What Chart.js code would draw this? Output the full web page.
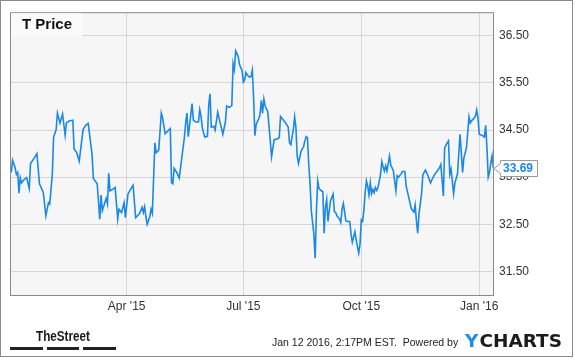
<!DOCTYPE html>
<html><head><meta charset="utf-8">
<script src="https://cdn.jsdelivr.net/npm/chart.js@4/dist/chart.umd.min.js"></script>
<style>html,body{margin:0;padding:0;background:#fff;overflow:hidden}#wrap{width:575px;height:358px;position:relative}canvas{display:block}</style>
</head><body><div id="wrap"><canvas id="c" width="575" height="358"></canvas></div>
<script>
// ---- data (days since 2015-01-01, closing price of T) ----
const seriesName = 'T Price';
const days = [0,1,3,4,5,6,7,8,10,12,14,15,18,20,22,25,27,29,30,32,33,35,36,38,40,42,43,45,48,49,51,53,56,58,60,63,64,67,69,70,71,73,74,75,76,77,79,81,83,84,86,88,89,91,93,95,97,100,102,103,104,105,106,108,109,110,112,113,115,117,118,120,122,124,125,126,127,129,131,133,135,136,137,138,139,141,142,144,146,147,148,149,150,151,153,154,155,156,157,158,159,161,163,164,165,167,168,170,172,173,174,175,177,178,180,181,182,183,184,186,187,188,189,190,191,193,194,195,196,197,198,199,200,202,203,205,208,209,210,212,214,216,217,218,220,221,222,223,224,226,228,229,230,231,232,233,234,236,237,238,239,240,241,243,244,245,246,247,248,249,251,252,253,254,256,257,258,259,260,261,262,264,265,266,268,269,271,272,273,274,275,276,277,278,279,280,281,282,283,284,285,286,288,289,290,291,292,293,295,296,297,298,300,301,302,304,305,307,308,310,312,314,315,316,317,318,320,321,323,325,327,328,330,332,334,335,336,337,338,339,341,342,343,345,346,348,349,350,351,352,353,355,357,358,359,360,362,363,364,365,367,368,369,370,371,372,373,374,375,376];
const prices = [33.60,33.86,33.70,33.56,33.60,33.16,33.49,33.38,33.45,33.49,33.26,33.79,33.91,34.00,33.36,33.17,32.68,32.96,32.93,33.56,34.35,34.51,34.86,34.65,34.84,34.39,34.65,34.69,34.71,34.10,34.02,33.84,34.51,34.60,34.64,33.98,33.47,33.36,32.61,33.12,32.79,32.96,33.05,32.93,33.58,33.21,33.24,33.28,32.61,32.82,32.75,32.96,32.64,33.14,33.24,33.33,32.64,32.73,32.86,32.75,32.87,32.66,32.50,32.66,32.82,32.73,34.23,34.02,34.07,34.86,34.76,34.42,34.48,34.53,33.38,33.36,33.69,33.60,33.48,33.91,34.34,34.65,34.86,34.36,34.58,35.06,34.71,34.67,34.67,34.93,34.79,34.55,34.44,34.35,34.37,35.03,35.27,34.56,34.57,34.58,34.50,34.88,34.64,34.53,34.41,34.67,35.01,34.98,35.02,35.91,35.78,36.18,36.06,35.89,35.76,35.52,35.56,35.72,35.67,35.62,35.64,35.77,35.18,34.38,34.62,34.74,34.83,35.13,34.86,35.16,35.01,34.95,34.90,34.27,33.93,34.29,34.32,34.34,34.79,34.72,34.65,34.56,34.23,34.19,34.51,34.78,34.55,33.95,33.79,34.05,34.15,34.27,34.36,34.34,33.77,33.38,32.79,32.29,31.78,32.79,33.42,33.26,33.23,33.19,32.31,32.86,33.03,32.56,32.79,33.00,33.14,32.77,32.75,32.68,32.61,32.54,32.82,32.94,32.76,32.57,32.56,32.56,32.29,32.12,32.34,32.17,31.89,32.08,32.59,32.56,32.79,33.17,33.42,33.31,33.12,33.38,33.15,33.24,33.17,33.28,33.22,33.28,33.56,33.83,33.72,33.63,33.74,33.63,33.95,33.75,33.70,33.63,33.21,33.53,33.50,33.57,33.62,33.62,33.31,33.07,32.83,32.76,32.91,32.57,32.31,32.72,33.15,33.55,33.65,33.53,33.38,33.44,33.55,33.62,33.70,33.77,33.45,33.10,34.12,34.18,34.27,33.56,33.67,33.15,33.38,33.56,33.98,34.41,34.02,33.60,33.91,34.12,34.78,34.65,34.70,34.72,34.79,34.93,34.76,34.41,34.39,34.37,34.35,34.60,34.12,33.50,33.60,33.79,33.95,33.69];
const xTickDays = [90, 181, 273, 365];
const xTickLabels = ["Apr '15", "Jul '15", "Oct '15", "Jan '16"];
const yTickValues = [31.5, 32.5, 33.5, 34.5, 35.5, 36.5];
const footerText = 'Jan 12 2016, 2:17PM EST.  Powered by';
const brandLeft = 'TheStreet';
const brandRight = ['Y', 'CHARTS'];

const LINE = '#1a88e8';
Chart.defaults.font.family = '"Liberation Sans", Arial, sans-serif';

const points = days.map((d, i) => ({x: d, y: prices[i]}));

const decor = {
  id: 'decor',
  beforeDraw(chart) {
    const ctx = chart.ctx, ca = chart.chartArea;
    ctx.save();
    ctx.fillStyle = '#fff';
    ctx.fillRect(0, 0, chart.width, chart.height);
    ctx.fillStyle = '#f6f6f6';
    ctx.fillRect(ca.left, ca.top, ca.right - ca.left, ca.bottom - ca.top);
    ctx.restore();
  },
  afterDraw(chart) {
    const ctx = chart.ctx, ca = chart.chartArea;
    const ys = chart.scales.y;
    ctx.save();
    // plot frame
    ctx.strokeStyle = '#8a8a8a';
    ctx.lineWidth = 1;
    ctx.strokeRect(ca.left + 0.5, ca.top + 0.5, ca.right - ca.left - 1, ca.bottom - ca.top);
    // legend box
    ctx.fillStyle = '#fafafa';
    ctx.fillRect(ca.left + 1, ca.top + 1, 71, 23);
    ctx.fillStyle = '#111';
    ctx.font = 'bold 15px "Liberation Sans", Arial, sans-serif';
    ctx.textBaseline = 'alphabetic';
    ctx.textAlign = 'left';
    ctx.fillText(seriesName, 22, 29);
    // last value tag
    const last = prices[prices.length - 1];
    const py = Math.round(ys.getPixelForValue(last)) + 0.5;
    const tx = ca.right, bx = tx + 6.5, bw = 37, bh = 16;
    ctx.beginPath();
    ctx.moveTo(tx, py);
    ctx.lineTo(bx, py - 5);
    ctx.lineTo(bx, py - bh / 2);
    ctx.lineTo(bx + bw, py - bh / 2);
    ctx.lineTo(bx + bw, py + bh / 2);
    ctx.lineTo(bx, py + bh / 2);
    ctx.lineTo(bx, py + 5);
    ctx.closePath();
    ctx.fillStyle = '#fff';
    ctx.fill();
    ctx.strokeStyle = '#999';
    ctx.stroke();
    ctx.fillStyle = LINE;
    ctx.font = 'bold 12px "Liberation Sans", Arial, sans-serif';
    ctx.textBaseline = 'middle';
    ctx.fillText(last.toFixed(2), bx + 2.5, py + 0.5);
    // footer text
    ctx.fillStyle = '#222';
    ctx.font = '10.5px "Liberation Sans", Arial, sans-serif';
    ctx.textBaseline = 'alphabetic';
    ctx.fillText(footerText, 272, 346);
    // TheStreet logo
    ctx.font = 'bold 14px "Liberation Sans Narrow", "Liberation Sans", Arial, sans-serif';
    let w = ctx.measureText(brandLeft).width;
    ctx.save();
    ctx.translate(36, 341);
    ctx.scale(54 / w, 1);
    ctx.fillStyle = '#1a1a1a';
    ctx.fillText(brandLeft, 0, 0);
    ctx.restore();
    ctx.fillStyle = '#222';
    ctx.fillRect(10, 347, 33, 3);
    ctx.fillRect(47, 347, 32, 3);
    ctx.fillRect(83, 347, 33, 3);
    // YCHARTS logo
    ctx.font = 'bold 17px "DejaVu Sans", "Liberation Sans", Arial, sans-serif';
    const w1 = ctx.measureText(brandRight[0]).width;
    const w2 = ctx.measureText(brandRight[1]).width;
    const sc = 97 / (w1 + w2 + 1);
    ctx.save();
    ctx.translate(465, 347);
    ctx.scale(sc, 1);
    ctx.fillStyle = '#1e8fe6';
    ctx.fillText(brandRight[0], 0, 0);
    ctx.fillStyle = '#1b1b1b';
    ctx.fillText(brandRight[1], w1 + 1, 0);
    ctx.restore();
    // outer frame
    ctx.strokeStyle = '#8a8a8a';
    ctx.strokeRect(0.5, 0.5, 572, 356);
    ctx.restore();
  }
};

new Chart(document.getElementById('c'), {
  type: 'line',
  data: {
    datasets: [{
      label: seriesName,
      data: points,
      borderColor: LINE,
      borderWidth: 1.6,
      pointRadius: 0,
      tension: 0,
      fill: false
    }]
  },
  options: {
    responsive: false,
    animation: false,
    devicePixelRatio: 1,
    layout: {padding: {left: 10, top: 10, right: 0, bottom: 0}},
    plugins: {legend: {display: false}, tooltip: {enabled: false}},
    scales: {
      x: {
        type: 'linear',
        min: -1,
        max: 376.5,
        afterBuildTicks: s => { s.ticks = xTickDays.map(v => ({value: v})); },
        afterFit: s => { s.height = 63; },
        grid: {color: '#d6d6d6', drawTicks: false},
        border: {display: false},
        ticks: {
          autoSkip: false, maxRotation: 0, padding: 4,
          color: '#333', font: {size: 12},
          callback: v => { const i = xTickDays.indexOf(v); return i >= 0 ? xTickLabels[i] : ''; }
        }
      },
      y: {
        position: 'right',
        min: 31,
        max: 37,
        afterBuildTicks: s => { s.ticks = yTickValues.map(v => ({value: v})); },
        afterFit: s => { s.width = 81; },
        grid: {color: '#d6d6d6', drawTicks: false},
        border: {display: false},
        ticks: {
          padding: 5, color: '#333', font: {size: 12},
          callback: v => Number(v).toFixed(2)
        }
      }
    }
  },
  plugins: [decor]
});
</script>
</body></html>
